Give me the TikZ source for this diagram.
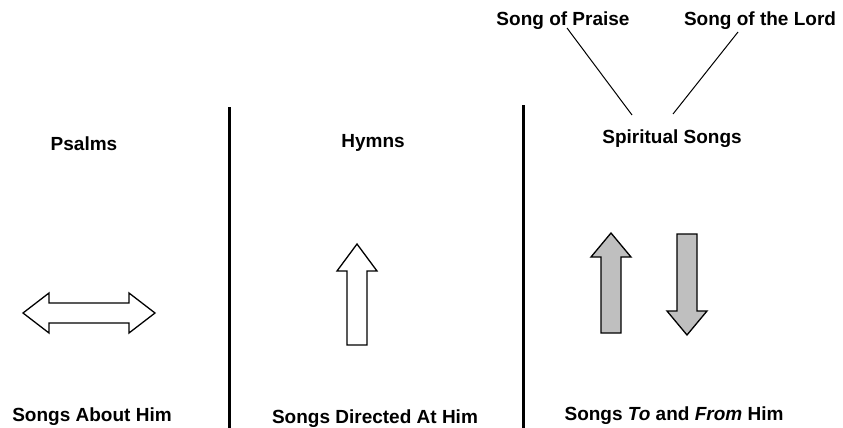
\documentclass[tikz,border=0pt]{standalone}
\usepackage{fontspec}
\setmainfont{Liberation Sans}
\begin{document}
\begin{tikzpicture}[x=1pt,y=-1pt,
  lbl/.style={anchor=base,inner sep=0pt,font=\fontsize{19}{22}\selectfont\bfseries},
  divider/.style={line width=3pt},
  conn/.style={line width=1pt},
  outl/.style={draw=black,line width=1.3pt,line join=miter},
  grayarrow/.style={outl,fill=gray!50!white}]
\useasboundingbox (0,0) rectangle (843,428);
% dividers
\draw[divider] (229,107) -- (229,428);
\draw[divider] (523,105) -- (523,428);
% labels
\node[lbl] (praise) at (563,26) {Song of Praise};
\node[lbl] (lord) at (760,26) {Song of the Lord};
\node[lbl] (psalms) at (84,150) {Psalms};
\node[lbl] (hymns) at (373,147) {Hymns};
\node[lbl] (spiritual) at (672,143) {Spiritual Songs};
\node[lbl] (about) at (92,421) {Songs About Him};
\node[lbl] (directed) at (375,423) {Songs Directed At Him};
\node[lbl] (tofrom) at (674,420) {Songs \textit{To} and \textit{From} Him};
% connectors
\coordinate (p1) at (567,28);
\coordinate (p2) at (632,115);
\coordinate (l1) at (738,32);
\coordinate (l2) at (673,114);
\draw[conn] (p1) -- (p2);
\draw[conn] (l1) -- (l2);
% double arrow (Psalms)
\draw[outl] (23,313) -- (49,293) -- (49,303) -- (129,303) -- (129,293) -- (155,313)
  -- (129,333) -- (129,323) -- (49,323) -- (49,333) -- cycle;
% up arrow (Hymns)
\draw[outl] (357,244) -- (377,271) -- (367,271) -- (367,345) -- (347,345) -- (347,271) -- (337,271) -- cycle;
% up arrow gray
\draw[grayarrow] (611,233) -- (631,257) -- (621,257) -- (621,333) -- (601,333) -- (601,257) -- (591,257) -- cycle;
% down arrow gray
\draw[grayarrow] (677,234) -- (697,234) -- (697,311) -- (707,311) -- (687,335) -- (667,311) -- (677,311) -- cycle;
\end{tikzpicture}
\end{document}
